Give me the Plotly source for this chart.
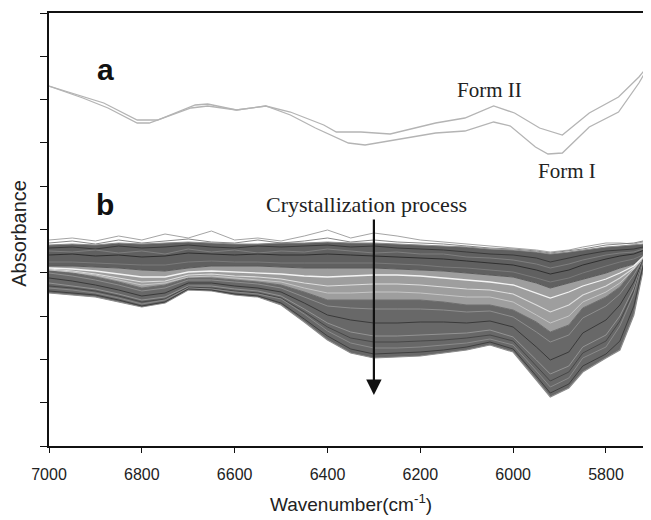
import plotly.graph_objects as go

# ---------------- data (absorbance, arbitrary units) ----------------
# (a) reference spectra of the two polymorphs
form2_wn = [7000, 6927, 6882, 6810, 6766, 6685, 6658, 6596, 6533, 6480, 6408, 6381,
            6328, 6265, 6167, 6104, 6042, 5997, 5943, 5894, 5836, 5773, 5729, 5703]
form2_abs = [3.60, 3.49, 3.43, 3.26, 3.26, 3.41, 3.42, 3.36, 3.40, 3.34, 3.21, 3.14,
             3.14, 3.12, 3.23, 3.28, 3.40, 3.33, 3.18, 3.11, 3.33, 3.49, 3.69, 3.84]

form1_wn = [7000, 6927, 6873, 6810, 6784, 6694, 6658, 6596, 6533, 6480, 6426, 6355,
            6319, 6257, 6167, 6104, 6042, 6006, 5952, 5925, 5894, 5836, 5773, 5729, 5704]
form1_abs = [3.60, 3.48, 3.38, 3.23, 3.23, 3.38, 3.40, 3.36, 3.40, 3.31, 3.18, 3.03,
             3.01, 3.06, 3.13, 3.15, 3.24, 3.20, 2.99, 2.92, 2.93, 3.19, 3.34, 3.63, 3.83]

# (b) spectra recorded during the crystallization process
wn = [7000, 6950, 6900, 6850, 6800, 6750, 6700, 6650, 6600, 6550, 6500, 6450, 6400, 6350, 6300,
      6250, 6200, 6150, 6100, 6050, 6000, 5950, 5920, 5880, 5850, 5800, 5770, 5740, 5720, 5705]

# envelopes of the spectral bundle
upper_top = [2.01, 2.02, 2.01, 2.03, 2.02, 2.03, 2.04, 2.03, 2.02, 2.02, 2.03, 2.03, 2.04, 2.03, 2.03,
             2.02, 2.01, 2.00, 1.99, 1.97, 1.96, 1.94, 1.92, 1.94, 1.96, 1.99, 2.00, 2.01, 2.02, 2.03]
upper_bot = [1.80, 1.80, 1.79, 1.78, 1.76, 1.75, 1.78, 1.80, 1.80, 1.80, 1.79, 1.78, 1.78, 1.78, 1.78,
             1.77, 1.76, 1.75, 1.73, 1.71, 1.69, 1.63, 1.58, 1.63, 1.67, 1.73, 1.78, 1.82, 1.88, 1.94]
lower_top = [1.76, 1.73, 1.69, 1.64, 1.58, 1.61, 1.68, 1.68, 1.66, 1.64, 1.61, 1.54, 1.46, 1.46, 1.46,
             1.46, 1.46, 1.44, 1.41, 1.41, 1.36, 1.24, 1.14, 1.21, 1.38, 1.49, 1.59, 1.76, 1.88, 1.96]
lower_bot = [1.53, 1.51, 1.49, 1.44, 1.39, 1.43, 1.56, 1.55, 1.51, 1.49, 1.41, 1.24, 1.06, 0.93, 0.88,
             0.89, 0.90, 0.93, 0.96, 1.01, 0.94, 0.66, 0.49, 0.58, 0.74, 0.88, 0.96, 1.31, 1.76, 1.99]

# individual spectra (early -> late)
s_t1 = [2.06, 2.08, 2.05, 2.10, 2.06, 2.12, 2.08, 2.15, 2.06, 2.08, 2.05, 2.10, 2.16, 2.08, 2.13,
        2.10, 2.06, 2.04, 2.02, 2.00, 1.98, 1.96, 1.94, 1.96, 1.99, 2.03, 2.03, 2.02, 2.04, 2.06]
s_t6 = [2.03, 2.05, 2.02, 2.06, 2.03, 2.05, 2.07, 2.04, 2.03, 2.06, 2.03, 2.05, 2.08, 2.04, 2.06,
        2.04, 2.03, 2.02, 2.00, 1.98, 1.97, 1.95, 1.93, 1.95, 1.97, 2.01, 2.02, 2.03, 2.05, 2.04]
s_t2 = [1.98, 1.99, 1.97, 2.00, 1.98, 1.99, 2.01, 1.99, 1.98, 2.00, 1.99, 2.00, 2.01, 1.99, 2.00,
        1.98, 1.97, 1.96, 1.94, 1.92, 1.91, 1.88, 1.84, 1.88, 1.91, 1.95, 1.96, 1.97, 1.99, 2.00]
s_t5 = [1.95, 1.94, 1.96, 1.93, 1.95, 1.92, 1.97, 1.94, 1.96, 1.93, 1.95, 1.94, 1.97, 1.95, 1.93,
        1.94, 1.92, 1.92, 1.89, 1.88, 1.86, 1.82, 1.78, 1.82, 1.86, 1.91, 1.93, 1.94, 1.97, 1.99]
s_t3 = [1.91, 1.92, 1.90, 1.91, 1.89, 1.90, 1.93, 1.92, 1.91, 1.92, 1.91, 1.91, 1.92, 1.91, 1.90,
        1.89, 1.88, 1.87, 1.85, 1.83, 1.81, 1.76, 1.72, 1.76, 1.81, 1.87, 1.90, 1.92, 1.95, 1.98]
s_t4 = [1.84, 1.84, 1.83, 1.82, 1.81, 1.81, 1.84, 1.85, 1.84, 1.84, 1.83, 1.83, 1.83, 1.83, 1.83,
        1.82, 1.81, 1.79, 1.78, 1.76, 1.74, 1.68, 1.64, 1.68, 1.73, 1.80, 1.84, 1.87, 1.91, 1.96]
s_m1 = [1.78, 1.77, 1.75, 1.72, 1.69, 1.69, 1.74, 1.75, 1.74, 1.73, 1.72, 1.70, 1.69, 1.70, 1.71,
        1.71, 1.70, 1.68, 1.66, 1.64, 1.61, 1.53, 1.48, 1.54, 1.60, 1.67, 1.73, 1.80, 1.89, 1.96]
s_m2 = [1.77, 1.75, 1.72, 1.68, 1.64, 1.65, 1.71, 1.72, 1.70, 1.69, 1.67, 1.63, 1.60, 1.61, 1.62,
        1.62, 1.61, 1.59, 1.57, 1.56, 1.52, 1.41, 1.34, 1.41, 1.51, 1.60, 1.68, 1.78, 1.88, 1.96]
s_m3 = [1.76, 1.74, 1.71, 1.66, 1.61, 1.63, 1.69, 1.70, 1.68, 1.66, 1.64, 1.58, 1.53, 1.53, 1.54,
        1.54, 1.53, 1.51, 1.49, 1.49, 1.44, 1.31, 1.23, 1.30, 1.44, 1.54, 1.63, 1.77, 1.88, 1.96]
s_l1 = [1.73, 1.70, 1.66, 1.61, 1.55, 1.58, 1.66, 1.66, 1.64, 1.62, 1.58, 1.49, 1.40, 1.38, 1.37,
        1.37, 1.37, 1.36, 1.34, 1.35, 1.29, 1.14, 1.04, 1.11, 1.28, 1.40, 1.52, 1.71, 1.87, 1.97]
s_l2 = [1.68, 1.65, 1.61, 1.56, 1.50, 1.53, 1.63, 1.63, 1.60, 1.58, 1.54, 1.43, 1.31, 1.26, 1.23,
        1.23, 1.24, 1.24, 1.23, 1.25, 1.19, 0.99, 0.86, 0.94, 1.13, 1.26, 1.41, 1.64, 1.86, 1.98]
s_l3 = [1.63, 1.60, 1.57, 1.52, 1.46, 1.49, 1.60, 1.60, 1.57, 1.55, 1.50, 1.37, 1.23, 1.14, 1.10,
        1.10, 1.11, 1.12, 1.13, 1.16, 1.09, 0.86, 0.72, 0.80, 0.99, 1.11, 1.30, 1.58, 1.85, 1.99]
s_l5 = [1.60, 1.58, 1.55, 1.50, 1.44, 1.47, 1.59, 1.58, 1.55, 1.53, 1.48, 1.34, 1.19, 1.08, 1.04,
        1.04, 1.05, 1.06, 1.08, 1.11, 1.05, 0.80, 0.65, 0.74, 0.93, 1.05, 1.25, 1.55, 1.85, 2.00]
s_l4 = [1.58, 1.56, 1.53, 1.48, 1.42, 1.46, 1.58, 1.57, 1.54, 1.52, 1.47, 1.32, 1.15, 1.03, 0.98,
        0.98, 0.99, 1.01, 1.03, 1.07, 1.01, 0.75, 0.59, 0.68, 0.88, 0.99, 1.20, 1.52, 1.84, 2.01]
s_l6 = [1.55, 1.53, 1.51, 1.46, 1.40, 1.44, 1.57, 1.56, 1.52, 1.50, 1.43, 1.27, 1.10, 0.97, 0.92,
        0.93, 0.94, 0.96, 0.99, 1.04, 0.97, 0.70, 0.53, 0.62, 0.80, 0.92, 1.05, 1.40, 1.80, 2.00]

x_ticks = [7000, 6800, 6600, 6400, 6200, 6000, 5800]
x_tick_labels = ["7000", "6800", "6600", "6400", "6200", "6000", "5800"]
y_ticks = [0, 0.433, 0.866, 1.299, 1.732, 2.165, 2.598, 3.031, 3.464, 3.897, 4.33]

# ---------------- figure ----------------
fig = go.Figure()

# (a) curves
fig.add_trace(go.Scatter(x=form2_wn, y=form2_abs, mode="lines",
                         line=dict(color="#b4b4b4", width=1.3), hoverinfo="skip"))
fig.add_trace(go.Scatter(x=form1_wn, y=form1_abs, mode="lines",
                         line=dict(color="#b4b4b4", width=1.3), hoverinfo="skip"))

# (b) bundle bands
fig.add_trace(go.Scatter(x=wn, y=upper_top, mode="lines",
                         line=dict(color="#8a8a8a", width=1), hoverinfo="skip"))
fig.add_trace(go.Scatter(x=wn, y=upper_bot, mode="lines", fill="tonexty",
                         fillcolor="rgb(96,96,96)", line=dict(color="#5a5a5a", width=1),
                         hoverinfo="skip"))
fig.add_trace(go.Scatter(x=wn, y=lower_top, mode="lines", fill="tonexty",
                         fillcolor="rgb(158,158,158)", line=dict(color="#6e6e6e", width=1),
                         hoverinfo="skip"))
fig.add_trace(go.Scatter(x=wn, y=lower_bot, mode="lines", fill="tonexty",
                         fillcolor="rgb(104,104,104)", line=dict(color="#8c8c8c", width=1.2),
                         hoverinfo="skip"))

# (b) individual spectra for texture
line_styles = [
    (s_t1, "#a4a4a4", 1.0),
    (s_t6, "#7a7a7a", 0.9),
    (s_t2, "#3a3a3a", 1.0),
    (s_t5, "#828282", 0.9),
    (s_t3, "#303030", 1.0),
    (s_t4, "#7a7a7a", 1.0),
    (s_m1, "#f4f4f4", 1.3),
    (s_m2, "#dedede", 1.1),
    (s_m3, "#c6c6c6", 1.0),
    (s_l1, "#8e8e8e", 1.0),
    (s_l2, "#3a3a3a", 1.0),
    (s_l3, "#939393", 1.0),
    (s_l5, "#444444", 0.9),
    (s_l4, "#8a8a8a", 1.0),
    (s_l6, "#3a3a3a", 0.9),
]
for ys, col, w in line_styles:
    fig.add_trace(go.Scatter(x=wn, y=ys, mode="lines",
                             line=dict(color=col, width=w), hoverinfo="skip"))

serif = "Liberation Serif, Times New Roman, serif"
sans = "Liberation Sans, Arial, sans-serif"

annotations = [
    dict(x=6879, y=3.77, text="<b>a</b>", showarrow=False,
         font=dict(family=sans, size=30, color="#111")),
    dict(x=6879, y=2.42, text="<b>b</b>", showarrow=False,
         font=dict(family=sans, size=30, color="#111")),
    dict(x=6050, y=3.56, text="Form II", showarrow=False,
         font=dict(family=serif, size=21, color="#222")),
    dict(x=5884, y=2.75, text="Form I", showarrow=False,
         font=dict(family=serif, size=21, color="#222")),
    dict(x=6317, y=2.42, text="Crystallization process", showarrow=False,
         font=dict(family=serif, size=22, color="#222")),
    dict(x=6300, y=0.51, ax=6300, ay=2.28, xref="x", yref="y", axref="x", ayref="y",
         text="", showarrow=True, arrowhead=2, arrowsize=1.4, arrowwidth=2.2,
         arrowcolor="#111"),
    dict(x=0.502, y=0, xref="paper", yref="paper", yshift=-71, yanchor="bottom",
         text="Wavenumber(cm<sup>-1</sup>)", showarrow=False,
         font=dict(family=sans, size=19, color="#222")),
    dict(x=0, y=0.49, xref="paper", yref="paper", xshift=-30, xanchor="center",
         text="Absorbance", textangle=-90, showarrow=False,
         font=dict(family=sans, size=20, color="#222")),
]

# the page body adds an 8 px offset, so the figure is 8 px smaller and margins shifted
fig.update_layout(
    width=643, height=512,
    margin=dict(l=41, r=0, t=5, b=74, pad=0),
    paper_bgcolor="white", plot_bgcolor="white",
    showlegend=False,
    annotations=annotations,
    xaxis=dict(range=[7000, 5703], tickvals=x_ticks, ticktext=x_tick_labels,
               ticks="outside", ticklen=5, tickwidth=1.3, tickcolor="#111",
               showline=True, linecolor="#111", linewidth=1.5, mirror=True,
               showgrid=False, zeroline=False, ticklabelstandoff=8,
               tickfont=dict(family=sans, size=16, color="#222")),
    yaxis=dict(range=[0, 4.33], tickvals=y_ticks, showticklabels=False,
               ticks="outside", ticklen=7, tickwidth=1.3, tickcolor="#111",
               showline=True, linecolor="#111", linewidth=1.5,
               showgrid=False, zeroline=False),
)

fig.write_html("out.html")
